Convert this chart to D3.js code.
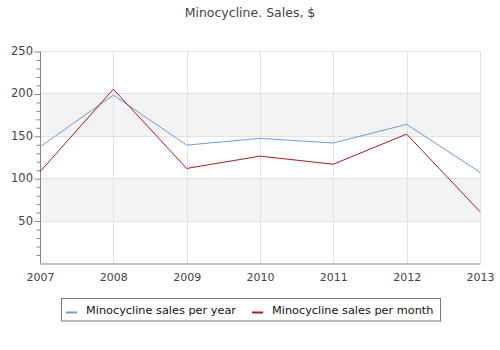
<!DOCTYPE html>
<html><head><meta charset="utf-8">
<script src="https://cdn.jsdelivr.net/npm/d3@7"></script>
<style>body{margin:0;background:#fff}svg{display:block;font-family:"DejaVu Sans",sans-serif}</style>
</head><body><svg id="c" width="500" height="350"></svg>
<script>
const years = [2007, 2008, 2009, 2010, 2011, 2012, 2013];
const perYear = [137, 198, 139, 147, 141.5, 163.5, 107];
const perMonth = [107.5, 205, 111.5, 126, 116.5, 152, 60.5];
const yTicks = [50, 100, 150, 200, 250];
const seriesNames = ["Minocycline sales per year", "Minocycline sales per month"];
const colors = ["#6a9ae8", "#b8141b"];

const svg = d3.select("#c");
const L = 40, R = 480, T = 51, B = 263;
const x = d3.scaleLinear().domain([2007, 2013]).range([L, R]);
const y = d3.scaleLinear().domain([0, 250]).range([B, T]);

// bands
const bands = [[50, 100], [150, 200]];
svg.selectAll("rect.band").data(bands).enter().append("rect")
  .attr("x", L).attr("width", R - L)
  .attr("y", d => y(d[1])).attr("height", d => y(d[0]) - y(d[1]))
  .attr("fill", "#f3f3f3");

// grid
svg.selectAll("line.hg").data(yTicks).enter().append("line")
  .attr("x1", L).attr("x2", R).attr("y1", d => Math.round(y(d)) + 0.5).attr("y2", d => Math.round(y(d)) + 0.5)
  .attr("stroke", "#e2e2e2");
svg.selectAll("line.vg").data(years.slice(1)).enter().append("line")
  .attr("x1", d => Math.round(x(d)) + 0.5).attr("x2", d => Math.round(x(d)) + 0.5).attr("y1", T).attr("y2", B)
  .attr("stroke", "#e2e2e2");

// y axis
const yAxis = d3.axisLeft(y).tickValues(d3.range(0, 251, 10)).tickSize(4).tickFormat("");
const gy = svg.append("g").attr("transform", `translate(${L + 0.5},0.5)`).call(yAxis);
gy.select(".domain").attr("stroke", "#888").attr("d", `M0,${T}V${B}`);
gy.selectAll(".tick line").attr("stroke", "#888").attr("x2", d => d % 50 === 0 && d > 0 ? -6 : -4);
gy.selectAll(".tick").filter(d => d === 0).remove();
svg.append("g").selectAll("text").data(yTicks).enter().append("text")
  .attr("x", 33).attr("y", d => y(d)).attr("dy", "0.35em").attr("text-anchor", "end")
  .attr("font-size", 11.5).attr("fill", "#444").text(d => d);

// x axis
const xAxis = d3.axisBottom(x).tickValues(years).tickFormat(d3.format("d")).tickSize(0).tickPadding(10);
const gx = svg.append("g").attr("transform", `translate(0,${B + 0.5})`).call(xAxis);
gx.select(".domain").attr("stroke", "#888");
gx.selectAll("text").attr("font-size", 11).attr("fill", "#444").attr("font-family", "DejaVu Sans");

// lines
const line = d3.line().x((d, i) => x(years[i])).y(d => y(d));
[perYear, perMonth].forEach((s, k) => {
  svg.append("path").datum(s).attr("d", line).attr("fill", "none")
    .attr("stroke", colors[k]).attr("stroke-width", 1);
});

// title
svg.append("text").attr("x", 250).attr("y", 17).attr("text-anchor", "middle")
  .attr("font-size", 12.5).attr("fill", "#444").text("Minocycline. Sales, $");

// legend
svg.append("rect").attr("x", 61.5).attr("y", 298.5).attr("width", 379).attr("height", 22.5)
  .attr("fill", "#fff").attr("stroke", "#777");
const lx = [66, 252];
seriesNames.forEach((n, k) => {
  svg.append("line").attr("x1", lx[k]).attr("x2", lx[k] + 11).attr("y1", 312.5).attr("y2", 312.5)
    .attr("stroke", colors[k]).attr("stroke-width", 2);
  svg.append("text").attr("x", lx[k] + 20).attr("y", 310.5).attr("dy", "0.35em")
    .attr("font-size", 11.3).attr("fill", "#111").text(n);
});
</script></body></html>
